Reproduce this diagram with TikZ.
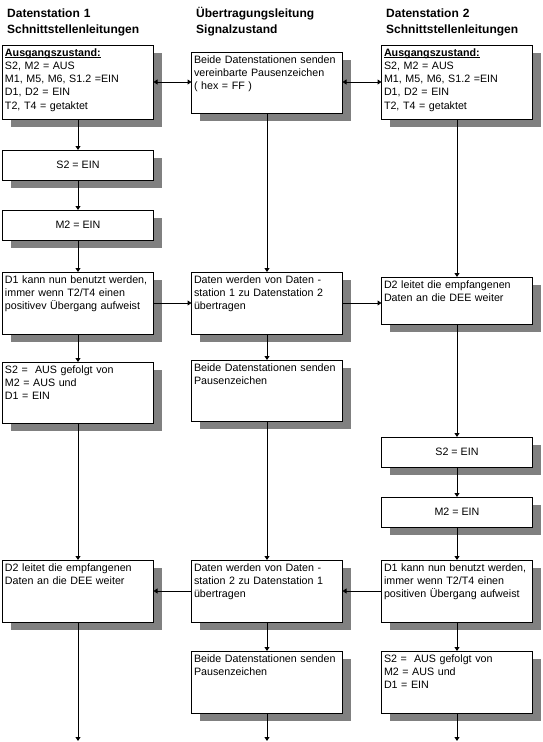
\documentclass[tikz,border=0pt]{standalone}
\usepackage{fontspec}
\setmainfont{Liberation Sans}
\usepackage{tikz}
\usetikzlibrary{arrows.meta,shadows}
\definecolor{shadowgrey}{RGB}{128,128,128}
\newsavebox{\ulbox}
\newcommand{\ulbold}[1]{\sbox{\ulbox}{\textbf{#1}}\rlap{\rule[-1.7pt]{\wd\ulbox}{0.9pt}}\usebox{\ulbox}}

\tikzset{
  kasten/.style={draw, line width=1pt, fill=white, anchor=north west,
    inner xsep=2.5pt, inner ysep=0pt, outer sep=0pt, text width=146pt, align=left,
    text height=11pt, font={\fontsize{10.7}{13.3}\selectfont},
    drop shadow={shadow xshift=8pt, shadow yshift=-8pt, fill=shadowgrey, opacity=1}},
  kurzkasten/.style={draw, line width=1pt, fill=white, anchor=north west,
    inner sep=0pt, outer sep=0pt, minimum width=151pt, minimum height=30pt,
    font={\fontsize{10.7}{13.3}\selectfont},
    drop shadow={shadow xshift=8pt, shadow yshift=-8pt, fill=shadowgrey, opacity=1}},
  kopf/.style={anchor=north west, inner sep=0pt, text width=170pt, align=left,
    text height=9pt, font={\fontsize{12}{16}\selectfont\bfseries}},
  pfeil/.style={line width=1pt, -{Triangle[length=4pt,width=5pt]}},
  doppelpfeil/.style={line width=1pt, {Triangle[length=4pt,width=5pt]}-{Triangle[length=4pt,width=5pt]}}
}

\begin{document}
\begin{tikzpicture}[x=1pt,y=-1pt]
  \useasboundingbox (0,0) rectangle (542,742);
  % Headers
  \node[kopf] (kopf1) at (7,8) {Datenstation 1\\Schnittstellenleitungen};
  \node[kopf] (kopf2) at (196,8) {Übertragungsleitung\\Signalzustand};
  \node[kopf] (kopf3) at (386,8) {Datenstation 2\\Schnittstellenleitungen};
  % Column 1 - Datenstation 1
  \node[kasten, text depth=63pt] (aus1) at (2.5,45)
    {\ulbold{Ausgangszustand:}\\S2, M2 = AUS\\M1, M5, M6, S1.2 =EIN\\D1, D2 = EIN\\T2, T4 = getaktet};
  \node[kurzkasten] (s2ein1) at (2.5,150) {S2 = EIN};
  \node[kurzkasten] (m2ein1) at (2.5,210) {M2 = EIN};
  \node[kasten, text depth=51pt] (d1frei1) at (2.5,272)
    {D1 kann nun benutzt werden,\\immer wenn T2/T4 einen\\positivev Übergang aufweist};
  \node[kasten, text depth=50pt] (s2aus1) at (2.5,362)
    {S2 = \ AUS gefolgt von\\M2 = AUS und\\D1 = EIN};
  \node[kasten, text depth=51pt] (d2weiter1) at (2.5,560)
    {D2 leitet die empfangenen\\Daten an die DEE weiter};
  % Column 2 - Signalzustand
  \node[kasten, text depth=50pt] (pause0) at (191.5,52)
    {Beide Datenstationen senden\\vereinbarte Pausenzeichen\\( hex = FF )};
  \node[kasten, text depth=51pt] (daten12) at (191.5,272)
    {Daten werden von Daten -\\station 1 zu Datenstation 2\\übertragen};
  \node[kasten, text depth=50pt] (pause1) at (191.5,360)
    {Beide Datenstationen senden\\Pausenzeichen};
  \node[kasten, text depth=51pt] (daten21) at (191.5,560)
    {Daten werden von Daten -\\station 2 zu Datenstation 1\\übertragen};
  \node[kasten, text depth=51pt] (pause2) at (191.5,651)
    {Beide Datenstationen senden\\Pausenzeichen};
  % Column 3 - Datenstation 2
  \node[kasten, text depth=63pt] (aus2) at (381.5,45)
    {\ulbold{Ausgangszustand:}\\S2, M2 = AUS\\M1, M5, M6, S1.2 =EIN\\D1, D2 = EIN\\T2, T4 = getaktet};
  \node[kasten, text depth=36pt] (d2weiter2) at (381.5,277)
    {D2 leitet die empfangenen\\Daten an die DEE weiter};
  \node[kurzkasten] (s2ein2) at (381.5,437) {S2 = EIN};
  \node[kurzkasten] (m2ein2) at (381.5,497) {M2 = EIN};
  \node[kasten, text depth=51pt] (d1frei2) at (381.5,560)
    {D1 kann nun benutzt werden,\\immer wenn T2/T4 einen\\positiven Übergang aufweist};
  \node[kasten, text depth=51pt] (s2aus2) at (381.5,651)
    {S2 = \ AUS gefolgt von\\M2 = AUS und\\D1 = EIN};
  % Vertical flow
  \foreach \a/\b in {aus1/s2ein1, s2ein1/m2ein1, m2ein1/d1frei1, d1frei1/s2aus1,
      s2aus1/d2weiter1, pause0/daten12, daten12/pause1, pause1/daten21,
      daten21/pause2, aus2/d2weiter2, d2weiter2/s2ein2, s2ein2/m2ein2,
      m2ein2/d1frei2, d1frei2/s2aus2}{
    \draw[pfeil] (\a.south) -- (\b.north);
  }
  % Open ends at the bottom
  \foreach \n in {d2weiter1, pause2, s2aus2}{
    \coordinate (\n-ende) at (\n.south |- 0,741);
    \draw[pfeil] (\n.south) -- (\n-ende);
  }
  % Horizontal links
  \draw[doppelpfeil] (aus1.east) -- (aus1.east -| pause0.west);
  \draw[doppelpfeil] (pause0.east |- aus2.west) -- (aus2.west);
  \draw[pfeil] (d1frei1.east) -- (daten12.west);
  \draw[pfeil] (daten12.east) -- (daten12.east -| d2weiter2.west);
  \draw[pfeil] (d1frei2.west) -- (daten21.east);
  \draw[pfeil] (daten21.west) -- (d2weiter1.east);
\end{tikzpicture}
\end{document}
